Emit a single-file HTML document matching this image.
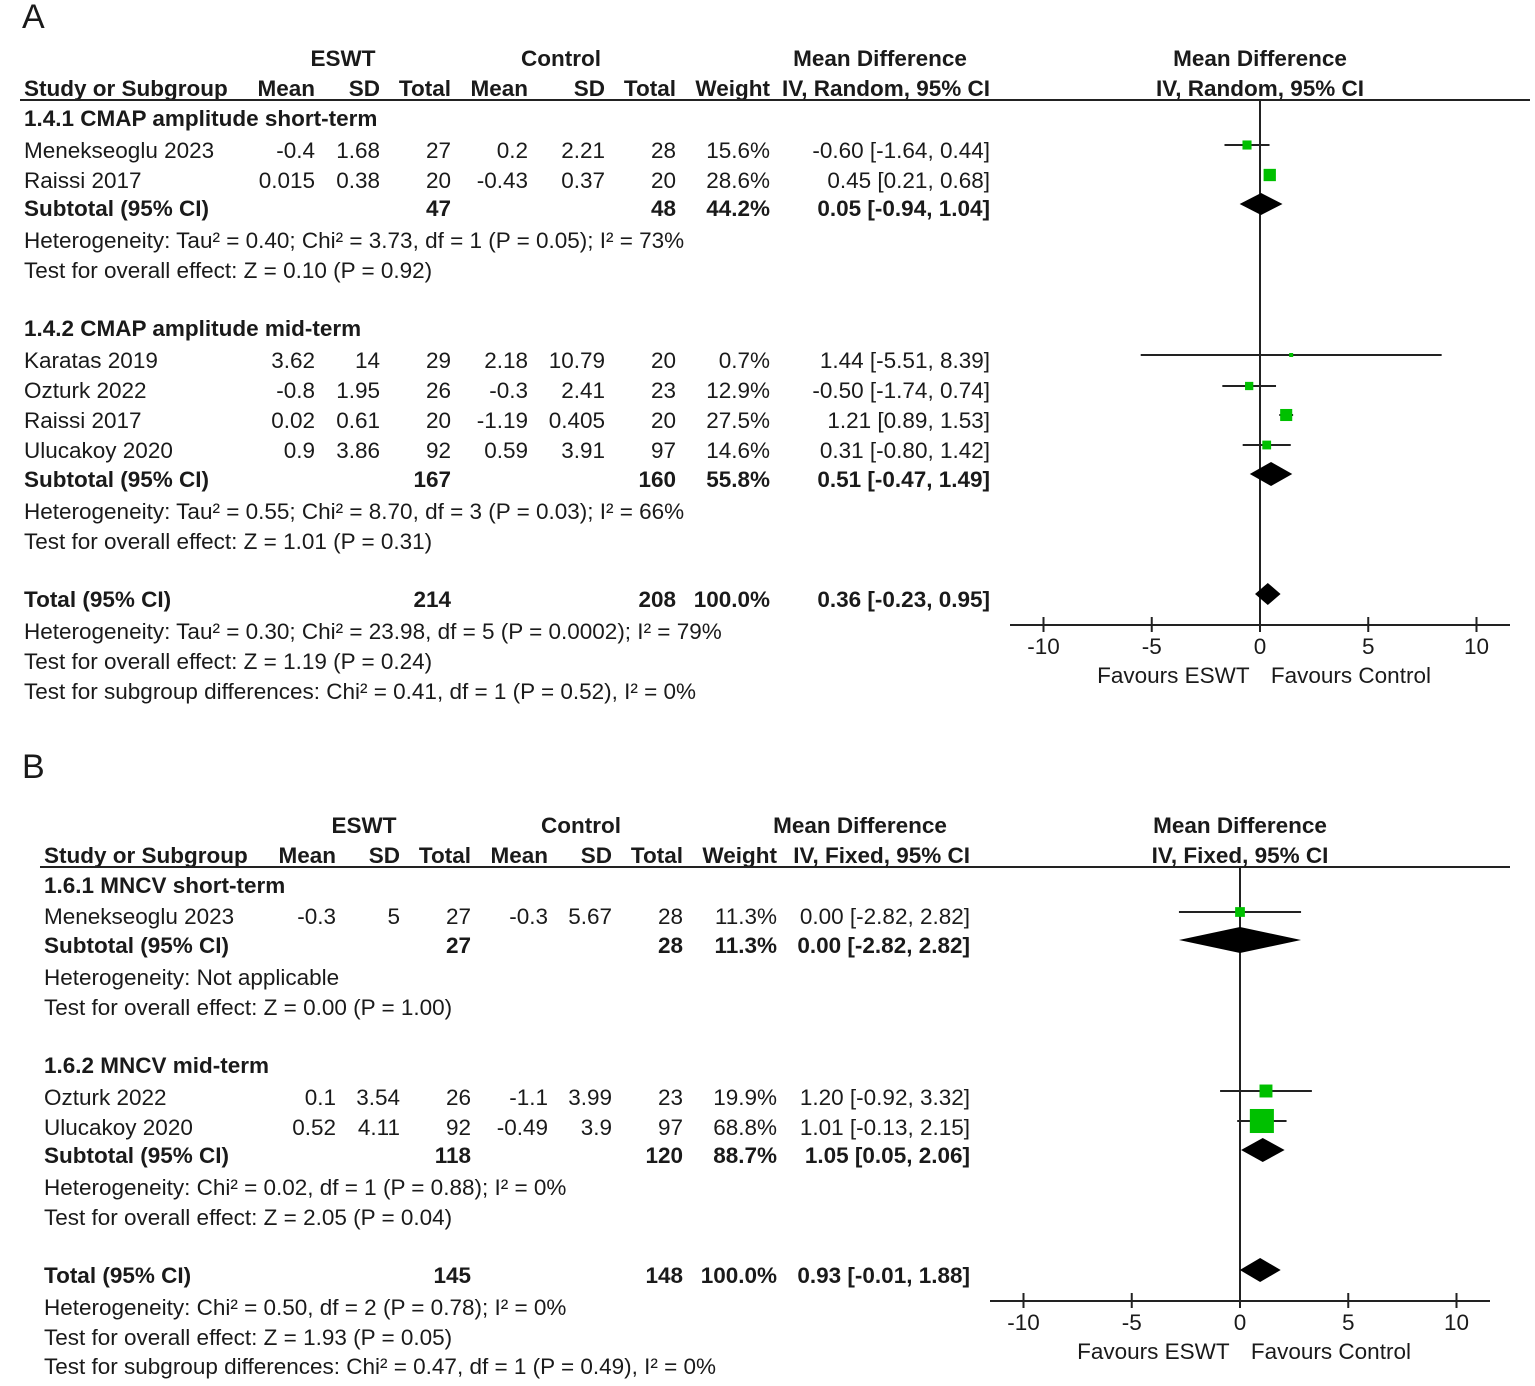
<!DOCTYPE html>
<html><head><meta charset="utf-8"><style>
body{margin:0;background:#fff}
svg text{font-family:"Liberation Sans Narrow","Liberation Sans",sans-serif;font-size:22.5px;fill:#1a1a1a}
.b{font-weight:bold}
</style></head><body>
<svg id="s" width="1535" height="1381" viewBox="0 0 1535 1381" xmlns="http://www.w3.org/2000/svg"></svg>
<script>
// Panel A data
const aStudies=["Menekseoglu 2023","Raissi 2017","Karatas 2019","Ozturk 2022","Raissi 2017","Ulucakoy 2020"];
const aMD=[-0.60,0.45,1.44,-0.50,1.21,0.31];
const aLo=[-1.64,0.21,-5.51,-1.74,0.89,-0.80];
const aHi=[0.44,0.68,8.39,0.74,1.53,1.42];
const aW=[15.6,28.6,0.7,12.9,27.5,14.6];
const aSubMD=[0.05,0.51,0.36];
const aSubLo=[-0.94,-0.47,-0.23];
const aSubHi=[1.04,1.49,0.95];
// Panel B data
const bStudies=["Menekseoglu 2023","Ozturk 2022","Ulucakoy 2020"];
const bMD=[0.00,1.20,1.01];
const bLo=[-2.82,-0.92,-0.13];
const bHi=[2.82,3.32,2.15];
const bW=[11.3,19.9,68.8];
const bSubMD=[0.00,1.05,0.93];
const bSubLo=[-2.82,0.05,-0.01];
const bSubHi=[2.82,2.06,1.88];
const ticks=[-10,-5,0,5,10];

const s=document.getElementById('s');
const NS="http://www.w3.org/2000/svg";
function el(t,a,name){const e=document.createElementNS(NS,t);for(const k in a)e.setAttribute(k,a[k]);


s.appendChild(e);return e;}
function tx(x,y,str,name,anchor,bold,size){const e=el('text',{x:x,y:y+8,'text-anchor':anchor||'start'},name);if(bold)e.setAttribute('class','b');if(size)e.setAttribute('style','font-size:'+size+'px');e.textContent=str;return e;}

function panel(P){
  const X=v=>P.x0+v*P.k;
  tx(P.lx,P.ty,P.label,'panel-label','start',false,34);
  tx(P.c[0]+28,P.h1,'ESWT','eswt-header','middle',true);
  tx(P.c[3]+33,P.h1,'Control','control-header','middle',true);
  tx(P.c[7]-110,P.h1,'Mean Difference','md-header','middle',true);
  tx(P.x0,P.h1,'Mean Difference','plot-md-header','middle',true);
  const hd=['Mean','SD','Total','Mean','SD','Total','Weight',P.meth];
  tx(P.sx,P.h1+30,'Study or Subgroup','study-header','start',true);
  hd.forEach((h,i)=>tx(P.c[i],P.h1+30,h,'column-header','end',true));
  tx(P.x0,P.h1+30,P.meth,'plot-method-header','middle',true);
  el('line',{x1:P.rx1,x2:P.rx2,y1:P.h1+42,y2:P.h1+42,stroke:'#222','stroke-width':2},'header-rule');
  P.rows.forEach(r=>{
    if(r.t==='g'){tx(P.sx,r.y,r.txt,'subgroup-title','start',true);}
    else if(r.t==='n'){tx(P.sx,r.y,r.txt,'note-text');}
    else{
      const bold=r.t!=='s';
      tx(P.sx,r.y,r.name,r.t==='s'?'study-name':'subtotal-label','start',bold);
      r.v.forEach((v,i)=>{if(v!=='')tx(P.c[i],r.y,v,'cell-value','end',bold);});
    }
  });
  el('line',{x1:X(0),x2:X(0),y1:P.h1+42,y2:P.ay,stroke:'#222','stroke-width':2},'zero-line');
  el('line',{x1:P.ax1,x2:P.ax2,y1:P.ay,y2:P.ay,stroke:'#222','stroke-width':2},'x-axis');
  ticks.forEach(t=>{el('line',{x1:X(t),x2:X(t),y1:P.ay-8,y2:P.ay+7,stroke:'#222','stroke-width':2},'x-tick');
    tx(X(t),P.ay+21,String(t),'x-tick-label','middle');});
  tx(X(-4),P.ay+50,'Favours ESWT','favours-eswt-label','middle');
  tx(X(4.2),P.ay+50,'Favours Control','favours-control-label','middle');
  P.md.forEach((m,i)=>{const y=P.sy[i];
    el('line',{x1:X(P.lo[i]),x2:X(P.hi[i]),y1:y,y2:y,stroke:'#222','stroke-width':2},'ci-line');
    const sz=Math.max(4,P.f*Math.sqrt(P.w[i]));
    el('rect',{x:X(m)-sz/2,y:y-sz/2,width:sz,height:sz,fill:'#00c000'},'study-square');});
  P.smd.forEach((m,i)=>{const y=P.dy[i],h=P.dh[i];
    el('polygon',{points:`${X(P.slo[i])},${y} ${X(m)},${y-h} ${X(P.shi[i])},${y} ${X(m)},${y+h}`,fill:'#000'},'summary-diamond');});
}

panel({label:'A',lx:22,ty:20,x0:1260,k:21.65,h1:58,sx:24,c:[315,380,451,528,605,676,770,990],meth:'IV, Random, 95% CI',
 rx1:20,rx2:1530,ay:625,ax1:1010,ax2:1510,
 md:aMD,lo:aLo,hi:aHi,w:aW,f:2.3,sy:[145,175,355,386,415,445],
 smd:aSubMD,slo:aSubLo,shi:aSubHi,dy:[204,474,594],dh:[11,12,11],
 rows:[
  {t:'g',y:118,txt:'1.4.1 CMAP amplitude short-term'},
  {t:'s',y:150,name:aStudies[0],v:['-0.4','1.68','27','0.2','2.21','28','15.6%','-0.60 [-1.64, 0.44]']},
  {t:'s',y:180,name:aStudies[1],v:['0.015','0.38','20','-0.43','0.37','20','28.6%','0.45 [0.21, 0.68]']},
  {t:'t',y:208,name:'Subtotal (95% CI)',v:['','','47','','','48','44.2%','0.05 [-0.94, 1.04]']},
  {t:'n',y:240,txt:'Heterogeneity: Tau² = 0.40; Chi² = 3.73, df = 1 (P = 0.05); I² = 73%'},
  {t:'n',y:270,txt:'Test for overall effect: Z = 0.10 (P = 0.92)'},
  {t:'g',y:328,txt:'1.4.2 CMAP amplitude mid-term'},
  {t:'s',y:360,name:aStudies[2],v:['3.62','14','29','2.18','10.79','20','0.7%','1.44 [-5.51, 8.39]']},
  {t:'s',y:390,name:aStudies[3],v:['-0.8','1.95','26','-0.3','2.41','23','12.9%','-0.50 [-1.74, 0.74]']},
  {t:'s',y:420,name:aStudies[4],v:['0.02','0.61','20','-1.19','0.405','20','27.5%','1.21 [0.89, 1.53]']},
  {t:'s',y:450,name:aStudies[5],v:['0.9','3.86','92','0.59','3.91','97','14.6%','0.31 [-0.80, 1.42]']},
  {t:'t',y:479,name:'Subtotal (95% CI)',v:['','','167','','','160','55.8%','0.51 [-0.47, 1.49]']},
  {t:'n',y:511,txt:'Heterogeneity: Tau² = 0.55; Chi² = 8.70, df = 3 (P = 0.03); I² = 66%'},
  {t:'n',y:541,txt:'Test for overall effect: Z = 1.01 (P = 0.31)'},
  {t:'t',y:599,name:'Total (95% CI)',v:['','','214','','','208','100.0%','0.36 [-0.23, 0.95]']},
  {t:'n',y:631,txt:'Heterogeneity: Tau² = 0.30; Chi² = 23.98, df = 5 (P = 0.0002); I² = 79%'},
  {t:'n',y:661,txt:'Test for overall effect: Z = 1.19 (P = 0.24)'},
  {t:'n',y:691,txt:'Test for subgroup differences: Chi² = 0.41, df = 1 (P = 0.52), I² = 0%'}
 ]});

panel({label:'B',lx:22,ty:770,x0:1240,k:21.65,h1:825,sx:44,c:[336,400,471,548,612,683,777,970],meth:'IV, Fixed, 95% CI',
 rx1:40,rx2:1510,ay:1301,ax1:990,ax2:1490,
 md:bMD,lo:bLo,hi:bHi,w:bW,f:2.9,sy:[912,1091,1121],
 smd:bSubMD,slo:bSubLo,shi:bSubHi,dy:[940,1150,1270],dh:[13,12,12],
 rows:[
  {t:'g',y:885,txt:'1.6.1 MNCV short-term'},
  {t:'s',y:916,name:bStudies[0],v:['-0.3','5','27','-0.3','5.67','28','11.3%','0.00 [-2.82, 2.82]']},
  {t:'t',y:945,name:'Subtotal (95% CI)',v:['','','27','','','28','11.3%','0.00 [-2.82, 2.82]']},
  {t:'n',y:977,txt:'Heterogeneity: Not applicable'},
  {t:'n',y:1007,txt:'Test for overall effect: Z = 0.00 (P = 1.00)'},
  {t:'g',y:1065,txt:'1.6.2 MNCV mid-term'},
  {t:'s',y:1097,name:bStudies[1],v:['0.1','3.54','26','-1.1','3.99','23','19.9%','1.20 [-0.92, 3.32]']},
  {t:'s',y:1127,name:bStudies[2],v:['0.52','4.11','92','-0.49','3.9','97','68.8%','1.01 [-0.13, 2.15]']},
  {t:'t',y:1155,name:'Subtotal (95% CI)',v:['','','118','','','120','88.7%','1.05 [0.05, 2.06]']},
  {t:'n',y:1187,txt:'Heterogeneity: Chi² = 0.02, df = 1 (P = 0.88); I² = 0%'},
  {t:'n',y:1217,txt:'Test for overall effect: Z = 2.05 (P = 0.04)'},
  {t:'t',y:1275,name:'Total (95% CI)',v:['','','145','','','148','100.0%','0.93 [-0.01, 1.88]']},
  {t:'n',y:1307,txt:'Heterogeneity: Chi² = 0.50, df = 2 (P = 0.78); I² = 0%'},
  {t:'n',y:1337,txt:'Test for overall effect: Z = 1.93 (P = 0.05)'},
  {t:'n',y:1366,txt:'Test for subgroup differences: Chi² = 0.47, df = 1 (P = 0.49), I² = 0%'}
 ]});
</script>
</body></html>
